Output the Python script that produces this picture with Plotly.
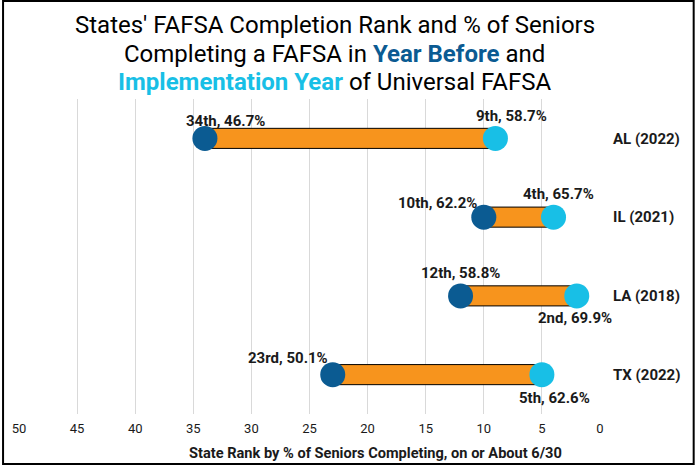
import plotly.graph_objects as go

# ---- data ----
states = ["AL (2022)", "IL (2021)", "LA (2018)", "TX (2022)"]
rank_before = [34, 10, 12, 23]
pct_before = [46.7, 62.2, 58.8, 50.1]
rank_impl = [9, 4, 2, 5]
pct_impl = [58.7, 65.7, 69.9, 62.6]
x_ticks = [0, 5, 10, 15, 20, 25, 30, 35, 40, 45, 50]

# label pixel offsets (style only)
before_shift = [(21, 17), (-46, 14), (0, 23), (-45, 17)]
impl_shift = [(16, 22), (5, 23), (-2, -22), (13, -23)]

DARK = "#0b5b92"
LIGHT = "#18bfe6"
ORANGE = "#f7941d"
FONT = "Roboto"

def ordinal(n):
    if 10 <= n % 100 <= 20:
        suf = "th"
    else:
        suf = {1: "st", 2: "nd", 3: "rd"}.get(n % 10, "th")
    return f"{n}{suf}"

fig = go.Figure()

fig.add_trace(go.Bar(
    y=states,
    x=[b - a for b, a in zip(rank_before, rank_impl)],
    base=rank_impl,
    orientation="h",
    width=0.255,
    marker=dict(color=ORANGE, line=dict(color="black", width=1)),
    hoverinfo="skip",
    showlegend=False,
))
fig.add_trace(go.Scatter(
    y=states, x=rank_before, mode="markers",
    marker=dict(color=DARK, size=25),
    showlegend=False,
))
fig.add_trace(go.Scatter(
    y=states, x=rank_impl, mode="markers",
    marker=dict(color=LIGHT, size=25),
    showlegend=False,
))

W, H = 695, 465
ml, mr, mt, mb = 17, 95, 99, 51
pw, ph = W - ml - mr, H - mt - mb

def px_x(px):
    return (px - ml) / pw

def px_y(py):
    return 1 - (py - mt) / ph

annotations = []
for i, s in enumerate(states):
    annotations.append(dict(
        x=rank_before[i], y=s, xref="x", yref="y",
        text=f"<b>{ordinal(rank_before[i])}, {pct_before[i]:.1f}%</b>",
        showarrow=False, xshift=before_shift[i][0], yshift=before_shift[i][1],
        font=dict(family=FONT, size=15, color="#1a1a1a"),
    ))
    annotations.append(dict(
        x=rank_impl[i], y=s, xref="x", yref="y",
        text=f"<b>{ordinal(rank_impl[i])}, {pct_impl[i]:.1f}%</b>",
        showarrow=False, xshift=impl_shift[i][0], yshift=impl_shift[i][1],
        font=dict(family=FONT, size=15, color="#1a1a1a"),
    ))

title_lines = [
    "States' FAFSA Completion Rank and % of Seniors",
    f"Completing a FAFSA in <b><span style='color:{DARK}'>Year Before</span></b> and",
    f"<b><span style='color:{LIGHT}'>Implementation Year</span></b> of Universal FAFSA",
]
title_y = [25, 54, 82]
for line, ty in zip(title_lines, title_y):
    annotations.append(dict(
        text=line, xref="paper", yref="paper",
        x=px_x(334), y=px_y(ty), xanchor="center", yanchor="middle",
        showarrow=False, align="center",
        font=dict(family=FONT, size=24, color="black"),
    ))

annotations.append(dict(
    text="<b>State Rank by % of Seniors Completing, on or About 6/30</b>",
    xref="paper", yref="paper", x=px_x(375), y=px_y(453),
    xanchor="center", yanchor="middle", showarrow=False,
    font=dict(family=FONT, size=14.6, color="#1a1a1a"),
))

fig.update_layout(
    width=W, height=H,
    margin=dict(l=ml, r=mr, t=mt, b=mb),
    paper_bgcolor="white", plot_bgcolor="white",
    font=dict(family=FONT, color="#1a1a1a"),
    barmode="overlay",
    annotations=annotations,
    xaxis=dict(
        range=[50, 0], tickvals=x_ticks, showgrid=True, gridcolor="#d9d9d9",
        gridwidth=1, zeroline=False, showline=False,
        tickfont=dict(family=FONT, size=13, color="#1a1a1a"),
        tickprefix="<b>", ticksuffix="</b>",
        ticklabelstandoff=5,
    ),
    yaxis=dict(
        side="right", categoryorder="array", categoryarray=states,
        autorange="reversed", showgrid=False, zeroline=False, showline=False,
        tickfont=dict(family=FONT, size=15, color="#1a1a1a"),
        ticklabelstandoff=12,
        tickprefix="<b>", ticksuffix="</b>",
    ),
    shapes=[dict(
        type="rect", xref="paper", yref="paper",
        x0=-(ml - 1) / pw, x1=1 + (mr - 1) / pw,
        y0=-(mb - 1) / ph, y1=1 + (mt - 1) / ph,
        line=dict(color="black", width=2), layer="above",
    )],
)

fig.write_html("out.html")
